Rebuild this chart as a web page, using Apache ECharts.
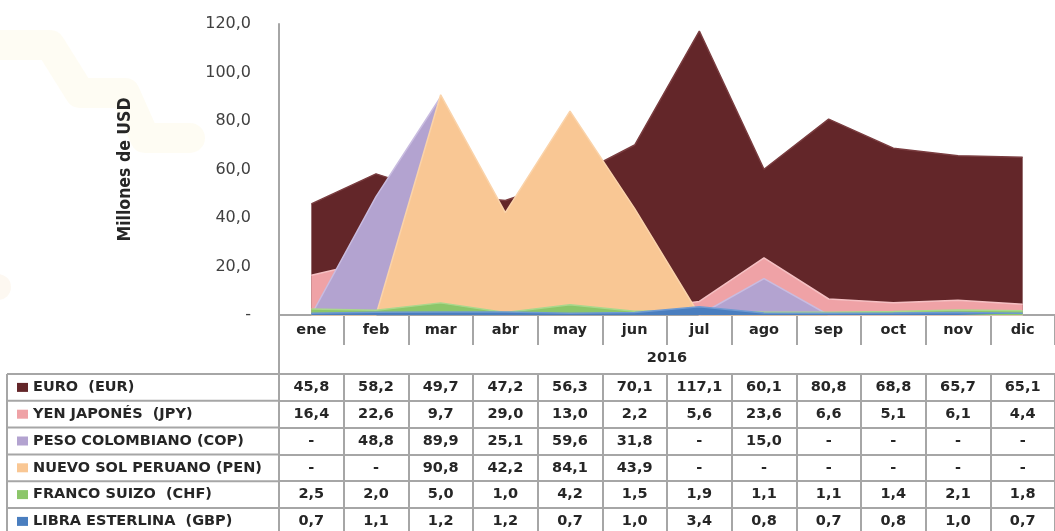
<!DOCTYPE html>
<html>
<head>
<meta charset="utf-8">
<script src="https://cdn.jsdelivr.net/npm/echarts@6/dist/echarts.min.js"></script>
<style>
html,body{margin:0;padding:0;background:#fff;}
#c{width:1055px;height:531px;}
</style>
</head>
<body>
<div id="c"></div>
<script>
const months = ['ene','feb','mar','abr','may','jun','jul','ago','sep','oct','nov','dic'];
const yearLabel = '2016';
const seriesNames = ['EURO  (EUR)','YEN JAPONÉS  (JPY)','PESO COLOMBIANO (COP)','NUEVO SOL PERUANO (PEN)','FRANCO SUIZO  (CHF)','LIBRA ESTERLINA  (GBP)'];
// 0 means "-" in the table
const eur = [45.8,58.2,49.7,47.2,56.3,70.1,117.1,60.1,80.8,68.8,65.7,65.1];
const jpy = [16.4,22.6,9.7,29.0,13.0,2.2,5.6,23.6,6.6,5.1,6.1,4.4];
const cop = [0,48.8,89.9,25.1,59.6,31.8,0,15.0,0,0,0,0];
const pen = [0,0,90.8,42.2,84.1,43.9,0,0,0,0,0,0];
const chf = [2.5,2.0,5.0,1.0,4.2,1.5,1.9,1.1,1.1,1.4,2.1,1.8];
const gbp = [0.7,1.1,1.2,1.2,0.7,1.0,3.4,0.8,0.7,0.8,1.0,0.7];
const yTicks = {min:0, max:120, interval:20};

const rows = [eur, jpy, cop, pen, chf, gbp];
const colors = ['#632629','#EFA2A6','#B3A3D0','#F9C794','#8CC66A','#4A7EBF'];
const edgeColors = ['#7A3D40','#F5C0C3','#C9BCE0','#FAD3AA','#A9D88C','#6F9AD2'];

const fmt = v => (v === 0 ? '-' : v.toFixed(1).replace('.', ','));

const gridLeft = 279, gridTop = 24, gridH = 291, colW = 65.4;
const axisY = gridTop + gridH; // 315
const rowTops = [374, 400.8, 427.6, 454.4, 481.2, 508];
const rowH = 26.8;
const lineCol = '#A6A6A6';
const tableFont = {fontFamily:'DejaVu Sans', fontWeight:'bold', fontSize:14.5, color:'#262626'};

const xAxes = [{
  type:'category', data:months, boundaryGap:true, gridIndex:0, position:'bottom',
  axisLine:{show:true, lineStyle:{color:lineCol, width:2}},
  axisTick:{show:true, interval:0, length:30, lineStyle:{color:lineCol, width:2}},
  axisLabel:Object.assign({interval:0, margin:15, verticalAlign:'middle'}, tableFont),
  name:yearLabel, nameLocation:'middle', nameGap:36,
  nameTextStyle:Object.assign({}, tableFont),
  splitLine:{show:false}
}];
rows.forEach((r, i) => {
  xAxes.push({
    type:'category', data:months, boundaryGap:true, gridIndex:0, position:'bottom',
    offset: rowTops[i] - axisY,
    axisLine:{show:true, lineStyle:{color:lineCol, width:2}},
    axisTick:{show:true, interval:0, length:rowH, lineStyle:{color:lineCol, width:2}},
    axisLabel:Object.assign({interval:0, margin:rowH/2, verticalAlign:'middle',
      formatter:(val, idx) => fmt(r[idx])}, tableFont),
    splitLine:{show:false}
  });
});

const series = rows.map((r, i) => ({
  name: seriesNames[i], type:'line', data:r, xAxisIndex:0, yAxisIndex:0,
  showSymbol:false, symbol:'none',
  lineStyle:{color:edgeColors[i], width:1.5},
  itemStyle:{color:colors[i]},
  areaStyle:{color:colors[i], opacity:1},
  z: 2 + i * 0.01
}));

const legends = seriesNames.map((n, i) => ({
  data:[{name:n, icon:'rect'}], orient:'vertical', left:17, top: rowTops[i] + rowH/2 - 8,
  padding:0, itemWidth:11, itemHeight:9, itemGap:0, selectedMode:false,
  textStyle:Object.assign({lineHeight:16, padding:[0,0,0,0]}, tableFont)
}));

const graphics = [];
// faint watermark
graphics.push({type:'polyline', z:-10, silent:true,
  shape:{points:[[-10,45],[50,45],[80,93],[125,93],[145,138],[190,138]]},
  style:{stroke:'rgba(250,232,170,0.14)', lineWidth:30, lineJoin:'round', lineCap:'round', fill:null}});
graphics.push({type:'circle', z:-10, silent:true, shape:{cx:-2, cy:287, r:13},
  style:{fill:'rgba(245,222,190,0.22)'}});
// table lines in legend column
rowTops.forEach(y => graphics.push({type:'line', silent:true, shape:{x1:7, y1:y, x2:gridLeft, y2:y},
  style:{stroke:lineCol, lineWidth:2}}));
graphics.push({type:'line', silent:true, shape:{x1:7, y1:rowTops[0], x2:7, y2:540}, style:{stroke:lineCol, lineWidth:2}});
graphics.push({type:'line', silent:true, shape:{x1:gridLeft, y1:axisY, x2:gridLeft, y2:540}, style:{stroke:lineCol, lineWidth:2}});

const option = {
  backgroundColor:'#ffffff',
  animation:false,
  grid:{left:gridLeft, top:gridTop, width:colW*12, height:gridH, containLabel:false},
  xAxis:xAxes,
  yAxis:{
    type:'value', min:yTicks.min, max:yTicks.max, interval:yTicks.interval,
    axisLine:{show:true, lineStyle:{color:lineCol, width:2}},
    axisTick:{show:false}, splitLine:{show:false},
    axisLabel:{margin:28, fontFamily:'DejaVu Sans', fontSize:16, color:'#404040', formatter:v => fmt(v)},
    name:'Millones de USD', nameLocation:'middle', nameGap:145,
    nameTextStyle:{fontFamily:'"Liberation Sans Narrow","DejaVu Sans Condensed",sans-serif', fontWeight:'bold', fontSize:17.5, color:'#262626'}
  },
  legend:legends,
  series:series,
  graphic:graphics
};
const chart = echarts.init(document.getElementById('c'), null, {renderer:'canvas'});
chart.setOption(option);
</script>
</body>
</html>
